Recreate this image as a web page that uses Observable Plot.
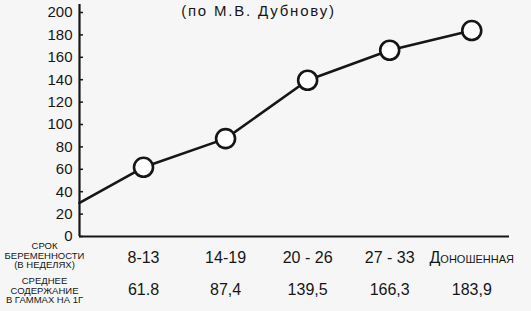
<!DOCTYPE html>
<html>
<head>
<meta charset="utf-8">
<script src="https://cdn.jsdelivr.net/npm/d3@7"></script>
<script src="https://cdn.jsdelivr.net/npm/@observablehq/plot@0.6"></script>
<style>
  html, body { margin: 0; padding: 0; background: #f6f6f6; }
  #chart svg { display: block; }
</style>
</head>
<body>
<div id="chart"></div>
<script>
// ---- data ----
const title = "(по М.В. Дубнову)";
const categories = ["8-13", "14-19", "20 - 26", "27 - 33", "Доношенная"];
const values = [61.8, 87.4, 139.5, 166.3, 183.9];
const valueLabels = ["61.8", "87,4", "139,5", "166,3", "183,9"];
const lineStartValue = 30;           // where the line meets the y axis
const yTicks = [0, 20, 40, 60, 80, 100, 120, 140, 160, 180, 200];
const rowLabelTerm = "СРОК\nБЕРЕМЕННОСТИ\n(В НЕДЕЛЯХ)";
const rowLabelValue = "СРЕДНЕЕ\nСОДЕРЖАНИЕ\nВ ГАММАХ НА 1Г";

// ---- derived tables ----
const xMin = 0.22, xMax = 5.46;
const points = categories.map((c, i) => ({idx: i + 1, cat: c, value: values[i], label: valueLabels[i]}));
const lineData = [{idx: xMin, value: lineStartValue}, ...points];

const ink = "#161616";
const chart = Plot.plot({
  width: 531,
  height: 311,
  marginLeft: 79,
  marginRight: 22,
  marginTop: 12,
  marginBottom: 75,
  x: {domain: [xMin, xMax], axis: null},
  y: {domain: [0, 200], axis: null},
  style: {background: "transparent", fontFamily: "Liberation Sans, Arial, sans-serif", color: ink},
  marks: [
    Plot.axisY({ticks: yTicks, tickSize: -4, tickPadding: 11, fontSize: 15, label: null, tickFormat: d => String(d), stroke: ink, strokeWidth: 1.5, fill: ink}),
    Plot.ruleX([xMin], {stroke: ink, strokeWidth: 2.2, insetTop: -8}),
    Plot.ruleY([0], {stroke: ink, strokeWidth: 2.2}),
    Plot.line(lineData, {x: "idx", y: "value", stroke: ink, strokeWidth: 2.6}),
    Plot.dot(points, {x: "idx", y: "value", r: 9.5, fill: "white", stroke: ink, strokeWidth: 2.6}),
    Plot.text(points, {x: "idx", text: "cat", frameAnchor: "bottom", lineAnchor: "middle", dy: 21, fontSize: 16, fontVariant: "small-caps", fill: ink}),
    Plot.text(points, {x: "idx", text: "label", frameAnchor: "bottom", lineAnchor: "middle", dy: 53, fontSize: 16, fill: ink}),
    Plot.text([rowLabelTerm], {frameAnchor: "bottom-left", dx: -35, dy: 19, textAnchor: "middle", lineAnchor: "middle", fontSize: 9.5, lineHeight: 1.0, fill: ink}),
    Plot.text([rowLabelValue], {frameAnchor: "bottom-left", dx: -35, dy: 54, textAnchor: "middle", lineAnchor: "middle", fontSize: 9.5, lineHeight: 1.0, fill: ink}),
    Plot.text([title], {frameAnchor: "top", lineAnchor: "middle", dx: -36, dy: -1, fontSize: 15, fill: ink})
  ]
});
document.getElementById("chart").appendChild(chart);
d3.select(chart).selectAll("text").filter(function () { return this.textContent === title; })
  .style("letter-spacing", "1.8px");
</script>
</body>
</html>
